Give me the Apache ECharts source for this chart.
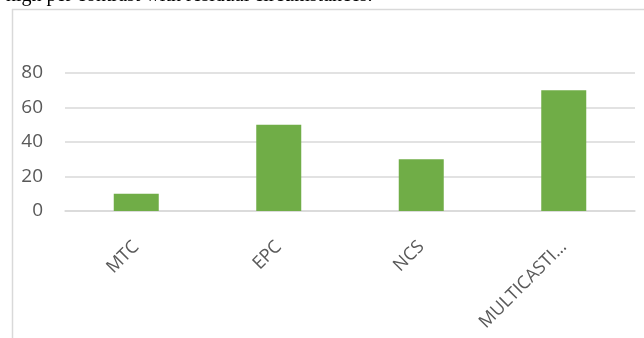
<!DOCTYPE html>
<html><head><meta charset="utf-8">
<script src="https://cdn.jsdelivr.net/npm/echarts@6/dist/echarts.min.js"></script>
<style>html,body{margin:0;padding:0;background:#fff;}#c{width:644px;height:338px;}</style>
</head><body><div id="c"></div>
<script>
var categories = ['MTC', 'EPC', 'NCS', 'MULTICASTI\u2026'];
var values = [10, 50, 30, 70];
var yTicks = [0, 20, 40, 60, 80];

var chart = echarts.init(document.getElementById('c'), null, {renderer: 'canvas'});
chart.setOption({
  animation: false,
  grid: {left: 65, right: 9, top: 73, bottom: 127, containLabel: false},
  graphic: [
    {type: 'text', left: 6, top: -14, style: {text: 'high per contrast with residual circumstances.', font: '20px "Liberation Serif", "Times New Roman", serif', fill: '#000'}},
    {type: 'line', shape: {x1: 12.5, y1: 9, x2: 12.5, y2: 338}, style: {stroke: '#d9d9d9', lineWidth: 1.5}},
    {type: 'line', shape: {x1: 12, y1: 9.5, x2: 644, y2: 9.5}, style: {stroke: '#d9d9d9', lineWidth: 1.5}}
  ],
  xAxis: {
    type: 'category', data: categories,
    axisLine: {lineStyle: {color: '#d9d9d9', width: 1.5}},
    axisTick: {show: false},
    axisLabel: {rotate: 45, margin: 33, interval: 0, color: '#595959', fontSize: 18, fontFamily: '"Open Sans", "Noto Sans", sans-serif'}
  },
  yAxis: {
    type: 'value', min: yTicks[0], max: yTicks[yTicks.length - 1], interval: 20,
    axisLine: {show: false}, axisTick: {show: false},
    splitLine: {lineStyle: {color: '#d9d9d9', width: 1.5}},
    axisLabel: {margin: 22, color: '#595959', fontSize: 19, fontFamily: '"Open Sans", "Noto Sans", sans-serif'}
  },
  series: [{type: 'bar', data: values, barWidth: 45, itemStyle: {color: '#70ad47'}}]
});
</script></body></html>
